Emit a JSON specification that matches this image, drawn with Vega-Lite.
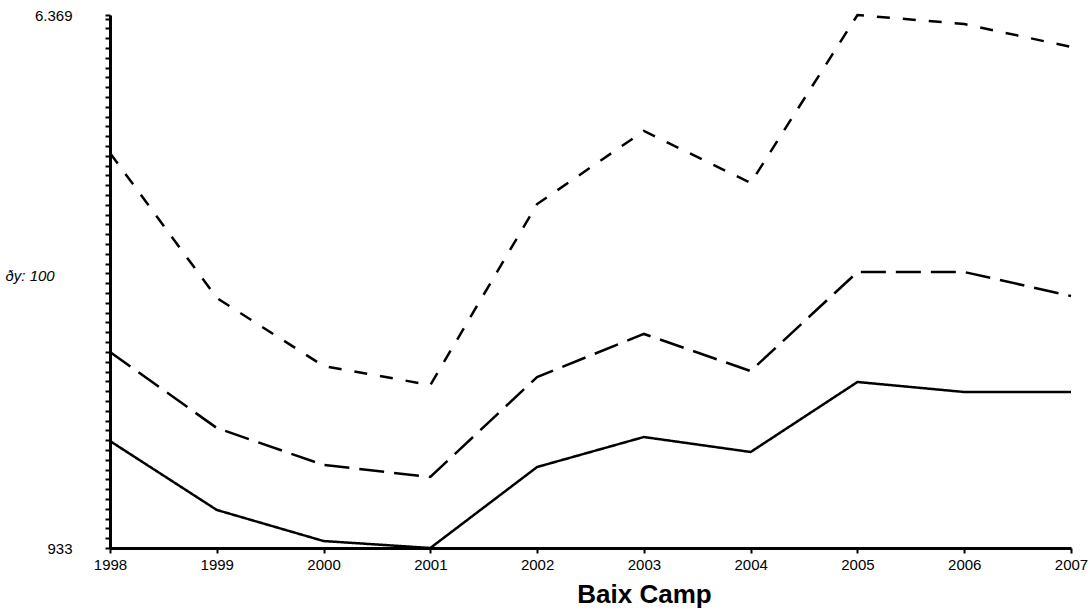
{
  "$schema": "https://vega.github.io/schema/vega-lite/v6.json",
  "width": 961,
  "height": 533,
  "autosize": {"type": "none"},
  "padding": {"left": 110, "top": 15, "right": 19, "bottom": 63},
  "background": "white",
  "config": {
    "view": {"stroke": null},
    "font": "Liberation Sans",
    "axis": {"grid": false, "domainColor": "black", "domainWidth": 3, "tickColor": "black", "tickWidth": 2, "tickSize": 5, "labelColor": "black", "titleColor": "black", "labelFont": "Liberation Sans", "titleFont": "Liberation Sans"}
  },
  "data": {
    "values": [
      {"year": 1998, "series": "A", "value": 2024},
      {"year": 1999, "series": "A", "value": 1321},
      {"year": 2000, "series": "A", "value": 1004},
      {"year": 2001, "series": "A", "value": 933},
      {"year": 2002, "series": "A", "value": 1759},
      {"year": 2003, "series": "A", "value": 2065},
      {"year": 2004, "series": "A", "value": 1912},
      {"year": 2005, "series": "A", "value": 2626},
      {"year": 2006, "series": "A", "value": 2524},
      {"year": 2007, "series": "A", "value": 2524},
      {"year": 1998, "series": "B", "value": 2932},
      {"year": 1999, "series": "B", "value": 2157},
      {"year": 2000, "series": "B", "value": 1780},
      {"year": 2001, "series": "B", "value": 1657},
      {"year": 2002, "series": "B", "value": 2677},
      {"year": 2003, "series": "B", "value": 3116},
      {"year": 2004, "series": "B", "value": 2738},
      {"year": 2005, "series": "B", "value": 3748},
      {"year": 2006, "series": "B", "value": 3748},
      {"year": 2007, "series": "B", "value": 3503},
      {"year": 1998, "series": "C", "value": 4962},
      {"year": 1999, "series": "C", "value": 3483},
      {"year": 2000, "series": "C", "value": 2789},
      {"year": 2001, "series": "C", "value": 2595},
      {"year": 2002, "series": "C", "value": 4441},
      {"year": 2003, "series": "C", "value": 5186},
      {"year": 2004, "series": "C", "value": 4656},
      {"year": 2005, "series": "C", "value": 6369},
      {"year": 2006, "series": "C", "value": 6277},
      {"year": 2007, "series": "C", "value": 6043}
    ]
  },
  "mark": {"type": "line", "color": "black", "strokeWidth": 2.5},
  "encoding": {
    "x": {
      "field": "year", "type": "quantitative",
      "scale": {"domain": [1998, 2007], "nice": false, "zero": false},
      "axis": {
        "values": [1998, 1999, 2000, 2001, 2002, 2003, 2004, 2005, 2006, 2007],
        "format": "d", "labelFontSize": 15, "labelPadding": 4, "labelFlush": false,
        "title": "Baix Camp", "titleFontSize": 26, "titleFontWeight": "bold",
        "titleX": 534, "titleY": 54, "titleAlign": "center", "titleBaseline": "alphabetic", "titleAnchor": null
      }
    },
    "y": {
      "field": "value", "type": "quantitative",
      "scale": {"domain": [933, 6369], "nice": false, "zero": false},
      "axis": {
        "values": [933,1033,1133,1233,1333,1433,1533,1633,1733,1833,1933,2033,2133,2233,2333,2433,2533,2633,2733,2833,2933,3033,3133,3233,3333,3433,3533,3633,3733,3833,3933,4033,4133,4233,4333,4433,4533,4633,4733,4833,4933,5033,5133,5233,5333,5433,5533,5633,5733,5833,5933,6033,6133,6233,6333,6369],
        "labelExpr": "datum.value == 6369 ? '6.369' : (datum.value == 933 ? '933' : '')",
        "labelFontSize": 15, "labelPadding": 33, "labelFlush": false, "labelOverlap": false,
        "title": "ðy: 100", "titleFontSize": 15, "titleFontWeight": "normal", "titleFontStyle": "italic",
        "titleAngle": 0, "titleX": -105, "titleY": 260, "titleAlign": "left", "titleBaseline": "middle"
      }
    },
    "strokeDash": {
      "field": "series", "type": "nominal",
      "scale": {"domain": ["A", "B", "C"], "range": [[1, 0], [25, 10], [13, 13]]},
      "legend": null
    }
  }
}
